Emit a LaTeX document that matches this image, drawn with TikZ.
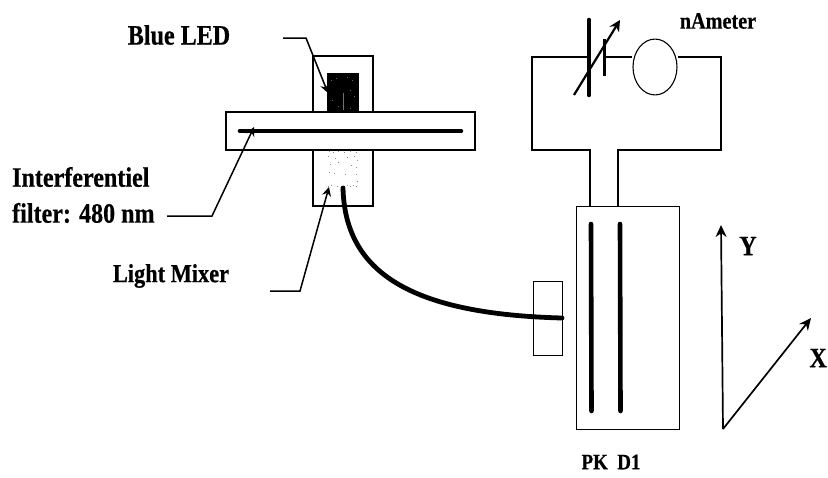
\documentclass[tikz,border=0pt]{standalone}
\usepackage{fontspec}
\setmainfont[BoldFeatures={FakeBold=0.6}]{Liberation Serif}
\usetikzlibrary{arrows.meta}
\tikzset{
  thinbox/.style={draw=black,line width=1pt,fill=white,inner sep=0pt,minimum width=#1},
  wire/.style={draw=black,line width=1.1pt},
  bar/.style={draw=black,line width=4.6pt,line cap=round},
  leader/.style={draw=black,line width=1.5pt,-{Stealth[length=9pt,width=9pt]}},
  axis/.style={draw=black,line width=1.7pt,-{Stealth[length=12pt,width=11pt]}},
  lbl/.style={font=\fontsize{#1}{#1}\selectfont\bfseries,inner sep=0pt,xscale=0.86,text=black},
  speck/.style={fill=black!45,inner sep=0pt,minimum size=1pt,shape=rectangle}
}
\begin{document}
\begin{tikzpicture}[x=1pt,y=-1pt]
\useasboundingbox (0,0) rectangle (828,477);
% source housing
\node[thinbox=60pt,minimum height=150pt,line width=1.2pt] (housing) at (343,131) {};
\node[draw=black,fill=black,inner sep=0pt,minimum width=31pt,minimum height=39pt] (led) at (342.5,92.5) {};
\draw[black!55,line width=0.8pt] (343,93) -- (343,110);
\foreach \a/\b in {331/80,336/78,347/77,352/80,350/90,354/96,332/100,338/106,350/108}
  \node[fill=black!60,inner sep=0pt,minimum size=1pt] at (\a,\b) {};
% mixer speckle
\foreach \a/\b in {329/151,333/152,338/151,344/152,350/151,356/152,328/156,335/158,347/157,354/156,357/160,
  330/164,338/162,351/165,356/167,329/172,334/173,345/174,356/174,328/186,331/185,337/186,344/186,347/185,350/186,353/185,356/186,357/181}
  \node[speck] at (\a,\b) {};
% filter
\node[draw=black,line width=1.6pt,fill=white,inner sep=0pt,minimum width=249pt,minimum height=38pt] (filter) at (350.5,131) {};
\coordinate (fa) at (240,131); \coordinate (fb) at (461,131);
\draw[bar] (fa) -- (fb);
% circuit
\node[draw=black,line width=1.1pt,inner sep=0pt,shape=circle,yscale=1.27,minimum size=44pt] (meter) at (655,67) {};
\coordinate (wtl) at (532,57); \coordinate (wtr) at (721,57);
\coordinate (wbl) at (532,150); \coordinate (wbr) at (721,150);
\coordinate (p1t) at (589,20); \coordinate (p1b) at (589,95);
\coordinate (p2t) at (604,39); \coordinate (p2b) at (604,76);
\coordinate (la) at (590,150); \coordinate (lb) at (590,206);
\coordinate (ra) at (618,150); \coordinate (rb) at (618,206);
\draw[wire] (p1t |- wtl) -- (wtl) -- (wbl) -- (la) -- (lb);
\draw[wire] (rb) -- (ra) -- (wbr) -- (wtr) -- (meter.east |- wtr);
\draw[wire] (p2t |- wtl) -- (meter.west |- wtl);
\draw[draw=black,line width=4.6pt,line cap=round] (p1t) -- (p1b);
\draw[draw=black,line width=3pt] (p2t) -- (p2b);
\coordinate (ca) at (574,95); \coordinate (cb) at (620,20);
\draw[draw=black,line width=2.2pt,-{Stealth[length=11pt,width=11pt]}] (ca) -- (cb);
% detector
\node[thinbox=103pt,minimum height=223pt] (det) at (627.5,317.5) {};
\draw[wire] (lb) -- (la |- det.north);
\coordinate (b1a) at (591,224); \coordinate (b1b) at (591.5,411);
\coordinate (b2a) at (620,224); \coordinate (b2b) at (620.5,411);
\draw[bar] (b1a) -- (b1b);
\draw[bar] (b2a) -- (b2b);
% coupler and fibre
\node[thinbox=29pt,minimum height=74pt] (coupler) at (547.5,318) {};
\coordinate (fib1) at (343,188); \coordinate (fib2) at (562,318);
\draw[draw=black,line width=4.8pt,line cap=round] (fib1) .. controls (345,272) and (410,314) .. (fib2);
% leaders
\coordinate (l1a) at (283,38); \coordinate (l1b) at (306,38); \coordinate (l1c) at (328,93);
\draw[leader] (l1a) -- (l1b) -- (l1c);
\coordinate (l2a) at (167,216); \coordinate (l2b) at (212,216); \coordinate (l2c) at (254,127);
\draw[leader] (l2a) -- (l2b) -- (l2c);
\coordinate (l3a) at (270,291); \coordinate (l3b) at (300,291); \coordinate (l3c) at (329,187);
\draw[leader] (l3a) -- (l3b) -- (l3c);
% axes
\coordinate (o) at (723,429); \coordinate (ya) at (721,225); \coordinate (xa) at (811,318);
\draw[axis] (o) -- (ya);
\draw[axis] (o) -- (xa);
% labels
\node[lbl=28] (t1) at (179,35) {Blue LED};
\node[lbl=28,anchor=west] (t2) at (12,177) {Interferentiel};
\node[lbl=28,anchor=west] (t3) at (12,213) {filter: 480 nm};
\node[lbl=26] (t4) at (171,276) {Light Mixer};
\node[lbl=23.5] (t5) at (718,21) {nAmeter};
\node[lbl=28] (t6) at (748,246) {Y};
\node[lbl=28,anchor=east] (t7) at (827,358) {X};
\node[lbl=22] (t8) at (611,462) {PK\ \ D1};
\end{tikzpicture}
\end{document}
